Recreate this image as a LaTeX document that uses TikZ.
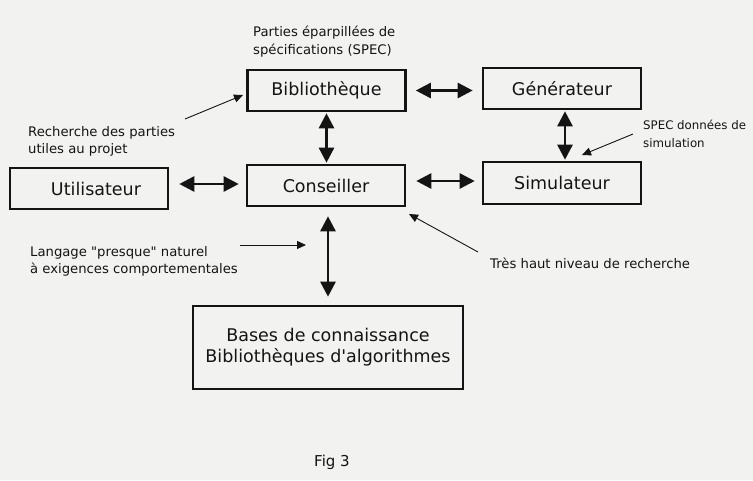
\documentclass[tikz,border=0pt]{standalone}
\usepackage{fontspec}
\setmainfont{DejaVu Sans}[Ligatures=TeXOff]
\usetikzlibrary{arrows.meta,calc}
\definecolor{paper}{RGB}{242,242,240}
\definecolor{ink}{RGB}{20,20,20}
\tikzset{
  box/.style={draw=ink,line width=2.6pt,minimum width=#1,inner sep=0pt,font=\fontsize{17.5}{21}\selectfont,text=ink},
  box/.default=158pt,
  big/.style={ink,line width=2.6pt,{Triangle[length=15pt,width=15pt]}-{Triangle[length=15pt,width=15pt]}},
  thin/.style={ink,line width=0.9pt,-{Triangle[length=9pt,width=8pt]}},
  lbl/.style={anchor=west,align=left,inner sep=0pt,text=ink,font=\fontsize{13.2}{17.5}\selectfont}
}
\begin{document}
\begin{tikzpicture}[x=1pt,y=-1pt]
\fill[paper] (0,0) rectangle (753,480);
\useasboundingbox (0,0) rectangle (753,480);
% boxes
\node[box,minimum height=41pt] (bib) at (326.5,90.5) {Bibliothèque};
\node[box,minimum height=41pt] (gen) at (562,88.5) {Générateur};
\node[box,minimum height=41pt] (util) at (89,188.5) {\hspace*{14pt}Utilisateur};
\node[box,minimum height=41pt] (cons) at (326,185.5) {Conseiller};
\node[box,minimum height=42pt] (sim) at (562,183) {Simulateur};
\node[box=270pt,minimum height=83pt,align=center] (bases) at (328,347.5) {Bases de connaissance\\Bibliothèques d'algorithmes};
% thick double arrows
\draw[big,shorten <=9pt,shorten >=9pt] (bib.east) -- (bib.east -| gen.west);
\draw[big,shorten <=1pt,shorten >=1pt] (bib.south) -- (bib.south |- cons.north);
\draw[big,shorten <=1pt,shorten >=1pt] ([xshift=3pt]gen.south) -- ([xshift=3pt]gen.south |- sim.north);
\draw[big,shorten <=10pt,shorten >=7pt] (util.east |- 0,184) -- (cons.west |- 0,184);
\draw[big,shorten <=10pt,shorten >=7pt] (cons.east |- 0,181) -- (sim.west |- 0,181);
\draw[big,shorten <=9pt,shorten >=8pt] ([xshift=2pt]cons.south) -- ([xshift=2pt]cons.south |- bases.north);
% labels
\node[lbl] (parties) at (253,41.5) {Parties éparpillées de\\spécifications (SPEC)};
\node[lbl] (rech) at (28,141.5) {Recherche des parties\\utiles au projet};
\node[lbl,font=\fontsize{11.8}{17.5}\selectfont] (spec) at (643,134) {SPEC données de\\simulation};
\node[lbl] (lang) at (30,261.5) {Langage "presque" naturel\\à exigences comportementales};
\node[lbl] (tres) at (490,263) {Très haut niveau de recherche};
\node[inner sep=0pt,text=ink,font=\fontsize{15}{18}\selectfont] (fig) at (332,462) {Fig 3};
% thin pointer arrows
\coordinate (r0) at (185,119); \coordinate (r1) at (243,95);
\draw[thin] (r0) -- (r1);
\coordinate (s0) at (633,134); \coordinate (s1) at (582,155);
\draw[thin] (s0) -- (s1);
\coordinate (t0) at (478,252); \coordinate (t1) at (409,214);
\draw[thin] (t0) -- (t1);
\coordinate (l0) at (240,245); \coordinate (l1) at (306,245);
\draw[thin] (l0) -- (l1);
\end{tikzpicture}
\end{document}
